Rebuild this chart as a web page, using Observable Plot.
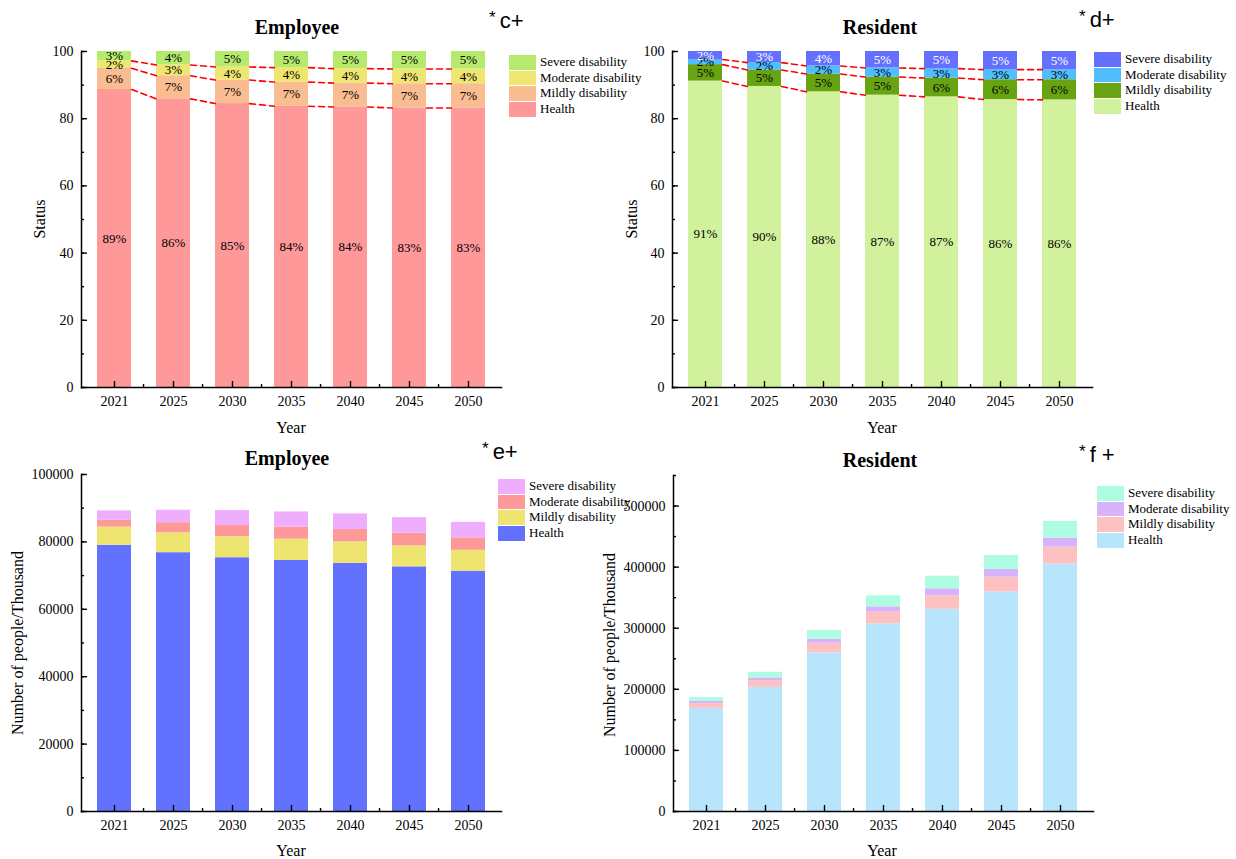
<!DOCTYPE html>
<html><head><meta charset="utf-8">
<script src="https://cdn.jsdelivr.net/npm/d3@7"></script>
<script src="https://cdn.jsdelivr.net/npm/@observablehq/plot@0.6"></script>
<style>
body{margin:0;background:#fff;}
#root{position:relative;width:1236px;height:859px;overflow:hidden;font-family:"Liberation Serif","Times New Roman",serif;color:#000;}
.panel{position:absolute;}
.title{position:absolute;font-weight:bold;font-size:20px;line-height:20px;transform:translateX(-50%);white-space:nowrap;}
.axt{position:absolute;font-size:16px;line-height:16px;white-space:nowrap;transform:translate(-50%,-50%);}
.axt.rot{transform:translate(-50%,-50%) rotate(-90deg);}
.tag{position:absolute;font-family:"Liberation Sans",Arial,sans-serif;font-size:22px;line-height:22px;white-space:nowrap;}
.tag sup{font-size:17px;vertical-align:5px;margin-right:4px;}
.legend{position:absolute;font-size:13px;}
.legend .row{position:relative;height:15.7px;}
.legend .sw{position:absolute;left:0;top:0;width:27px;height:14.5px;}
.legend .lb{position:absolute;left:31px;top:-1px;line-height:16px;white-space:nowrap;}
</style>
</head><body><div id="root"></div>
<script>
// ---------------- data ----------------
const years = ["2021","2025","2030","2035","2040","2045","2050"];
const statuses = ["Health","Mildly disability","Moderate disability","Severe disability"];

// (c) Employee, percent
const empPctHealth   = [88.7, 85.9, 84.5, 83.7, 83.5, 83.2, 83.2];
const empPctMild     = [6.3, 6.9, 7.0, 7.2, 7.1, 7.2, 7.2];
const empPctModerate = [2.2, 3.2, 3.9, 4.3, 4.3, 4.4, 4.4];
const empPctSevere   = [2.8, 4.0, 4.6, 4.8, 5.1, 5.2, 5.2];

// (d) Resident, percent
const resPctHealth   = [91.2, 89.6, 88.0, 87.0, 86.5, 85.7, 85.6];
const resPctMild     = [4.9, 4.9, 5.3, 5.4, 5.6, 5.9, 6.0];
const resPctModerate = [1.5, 2.2, 2.4, 2.7, 2.8, 3.0, 3.0];
const resPctSevere   = [2.4, 3.3, 4.3, 4.9, 5.1, 5.4, 5.4];

// (e) Employee, number of people (thousand)
const empNumHealth   = [79000, 76800, 75300, 74500, 73600, 72600, 71300];
const empNumMild     = [5400, 5900, 6200, 6300, 6400, 6200, 6200];
const empNumModerate = [2000, 3000, 3400, 3600, 3700, 3800, 3700];
const empNumSevere   = [2800, 3700, 4400, 4500, 4600, 4600, 4600];

// (f) Resident, number of people (thousand)
const resNumHealth   = [168800, 203300, 259500, 307100, 331100, 359500, 404900];
const resNumMild     = [7700, 10900, 15900, 19100, 21900, 24100, 27900];
const resNumModerate = [3800, 4400, 6600, 8800, 11500, 12600, 14700];
const resNumSevere   = [6100, 9300, 14200, 18000, 20700, 22900, 27400];

const empPctColors = ["#FF9999","#F9BD91","#EEE66E","#B5EA6E"];
const resPctColors = ["#D1F19C","#68A412","#4FBDFE","#6571FE"];
const empNumColors = ["#6272FE","#EEE570","#FE9999","#EEAEFD"];
const resNumColors = ["#B8E4FC","#FEC1C1","#D9B2FC","#AEFDE2"];

// ---------------- helpers ----------------
const PAD_IN = 0.43, PAD_OUT = 0.22, PLOT_W = 420;
const STEP = PLOT_W / (years.length - PAD_IN + 2 * PAD_OUT);
const HW = STEP * (1 - PAD_IN) / 2;

function longData(series) {
  const out = [];
  years.forEach((y, i) => statuses.forEach((s, j) => out.push({year: y, status: s, value: series[j][i]})));
  return out;
}
function cumulativeTops(series) {
  const out = [];
  for (let k = 0; k < 3; k++) {
    years.forEach((y, i) => {
      let c = 0; for (let j = 0; j <= k; j++) c += series[j][i];
      out.push({year: y, level: k, y: c});
    });
  }
  return out;
}
// line segments only in the gaps between bars (from right edge of one bar to left edge of the next)
function gapCurve(hw) {
  return (context) => {
    let pts = [];
    return {
      areaStart() {}, areaEnd() {},
      lineStart() { pts = []; },
      point(x, y) { pts.push([+x, +y]); },
      lineEnd() {
        for (let i = 0; i < pts.length - 1; i++) {
          context.moveTo(pts[i][0] + hw, pts[i][1]);
          context.lineTo(pts[i + 1][0] - hw, pts[i + 1][1]);
        }
      }
    };
  };
}

const root = document.getElementById("root");
function addDiv(cls, html, style) {
  const d = document.createElement("div");
  d.className = cls; d.innerHTML = html;
  Object.assign(d.style, style);
  root.appendChild(d);
  return d;
}

function panel(o) {
  const data = longData(o.series);
  const marks = [
    Plot.barY(data, {x: "year", y: "value", fill: "status", z: "status", order: statuses})
  ];
  if (o.pct) {
    marks.push(Plot.line(cumulativeTops(o.series), {x: "year", y: "y", z: "level", stroke: "#FF0000",
      strokeWidth: 1.6, strokeDasharray: "6,4", curve: gapCurve(HW)}));
    const sev = statuses[3];
    marks.push(Plot.text(data, Plot.stackY({x: "year", y: "value", z: "status", order: statuses,
      text: d => d.status === sev && o.severeWhite ? null : Math.round(d.value) + "%", fontSize: 13, fill: "black"})));
    if (o.severeWhite) {
      marks.push(Plot.text(data, Plot.stackY({x: "year", y: "value", z: "status", order: statuses,
        text: d => d.status === sev ? Math.round(d.value) + "%" : null, fontSize: 13, fill: "white"})));
    }
  }
  marks.push(
    Plot.axisY({ticks: o.yMinor, tickSize: 3, dx: 3, text: null, strokeWidth: 1.4}),
    Plot.axisY({ticks: o.yMajor, tickSize: 6, dx: 6, text: null, strokeWidth: 1.4}),
    Plot.axisY({ticks: o.yMajor, tickSize: 0, tickPadding: 8, tickFormat: "d", fontSize: 14}),
    Plot.axisX({tickSize: 6, dy: -6, text: null, strokeWidth: 1.4}),
    Plot.axisX({ticks: years.slice(1), tickSize: 3, dy: -3, dx: -STEP / 2, text: null, strokeWidth: 1.4}),
    Plot.axisX({tickSize: 0, tickPadding: 9, fontSize: 14}),
    Plot.frame({anchor: "left", strokeWidth: 1.5}),
    Plot.frame({anchor: "bottom", strokeWidth: 1.5})
  );
  const svg = Plot.plot({
    width: o.width, height: o.height,
    marginLeft: o.axisX - o.left, marginRight: o.left + o.width - (o.axisX + PLOT_W),
    marginTop: o.marginTop, marginBottom: o.marginBottom,
    style: {fontFamily: "'Liberation Serif','Times New Roman',serif", fontSize: "14px", color: "black", background: "transparent", overflow: "visible"},
    x: {type: "band", domain: years, paddingInner: PAD_IN, paddingOuter: PAD_OUT, align: 0.5, label: null},
    y: {domain: o.yDomain, label: null},
    color: {domain: statuses, range: o.colors},
    marks
  });
  const wrap = document.createElement("div");
  wrap.className = "panel";
  wrap.style.left = o.left + "px"; wrap.style.top = o.top + "px";
  wrap.appendChild(svg);
  root.appendChild(wrap);

  // title, axis titles, tag, legend
  addDiv("title", o.title, {left: o.titleX + "px", top: o.titleY + "px"});
  addDiv("axt", "Year", {left: o.yearX + "px", top: o.yearY + "px"});
  addDiv("axt rot", o.yLabel, {left: o.yLabX + "px", top: o.yLabY + "px"});
  addDiv("tag", o.tag, {left: o.tagX + "px", top: o.tagY + "px"});
  const lg = addDiv("legend", "", {left: o.legX + "px", top: o.legY + "px"});
  [3, 2, 1, 0].forEach(j => {
    const r = document.createElement("div"); r.className = "row";
    r.innerHTML = `<div class="sw" style="background:${o.colors[j]}"></div><div class="lb">${statuses[j]}</div>`;
    lg.appendChild(r);
  });
}

const pctMajor = [0, 20, 40, 60, 80, 100];
const pctMinor = d3.range(0, 101, 10);

panel({left: 0, top: 0, width: 618, height: 440, axisX: 81, marginTop: 51, marginBottom: 53,
  series: [empPctHealth, empPctMild, empPctModerate, empPctSevere], colors: empPctColors,
  yDomain: [0, 100], yMajor: pctMajor, yMinor: pctMinor, pct: true, severeWhite: false,
  title: "Employee", titleX: 297, titleY: 17, yearX: 291, yearY: 428, yLabel: "Status", yLabX: 40, yLabY: 219,
  tag: "<sup>*</sup>c+", tagX: 489, tagY: 7, legX: 509, legY: 55});

panel({left: 618, top: 0, width: 618, height: 440, axisX: 672, marginTop: 51, marginBottom: 53,
  series: [resPctHealth, resPctMild, resPctModerate, resPctSevere], colors: resPctColors,
  yDomain: [0, 100], yMajor: pctMajor, yMinor: pctMinor, pct: true, severeWhite: true,
  title: "Resident", titleX: 880, titleY: 17, yearX: 882, yearY: 428, yLabel: "Status", yLabX: 632, yLabY: 219,
  tag: "<sup>*</sup>d+", tagX: 1079, tagY: 6, legX: 1094, legY: 52});

panel({left: 0, top: 440, width: 618, height: 419, axisX: 81, marginTop: 34, marginBottom: 48,
  series: [empNumHealth, empNumMild, empNumModerate, empNumSevere], colors: empNumColors,
  yDomain: [0, 100000], yMajor: d3.range(0, 100001, 20000), yMinor: d3.range(0, 100001, 10000), pct: false,
  title: "Employee", titleX: 287, titleY: 448, yearX: 291, yearY: 851, yLabel: "Number of people/Thousand", yLabX: 18, yLabY: 643,
  tag: "<sup>*</sup>e+", tagX: 482, tagY: 438, legX: 498, legY: 479});

panel({left: 618, top: 440, width: 618, height: 419, axisX: 673, marginTop: 35, marginBottom: 48,
  series: [resNumHealth, resNumMild, resNumModerate, resNumSevere], colors: resNumColors,
  yDomain: [0, 550000], yMajor: d3.range(0, 500001, 100000), yMinor: d3.range(0, 550001, 50000), pct: false,
  title: "Resident", titleX: 880, titleY: 450, yearX: 882, yearY: 851, yLabel: "Number of people/Thousand", yLabX: 610, yLabY: 645,
  tag: "<sup>*</sup>f +", tagX: 1079, tagY: 441, legX: 1097, legY: 486});
</script>
</body></html>
